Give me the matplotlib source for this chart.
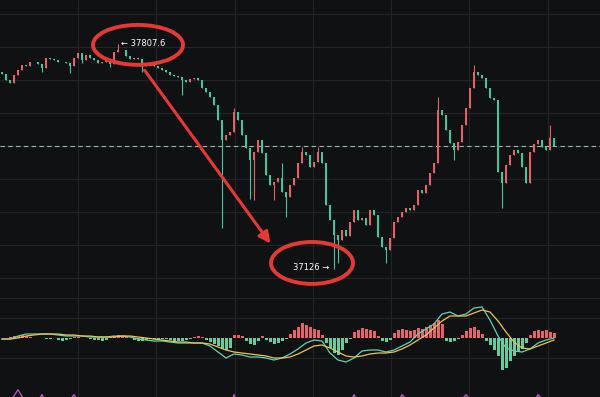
import numpy as np
import matplotlib
matplotlib.use("Agg")
import matplotlib.pyplot as plt
from matplotlib.patches import Ellipse

# close prices, one per candle (oldest first)
closes = [
    37718, 37700, 37691, 37715, 37730, 37745, 37742, 37754, 37754, 37748,
    37736, 37766, 37763, 37760, 37754, 37754, 37751, 37742, 37766, 37781,
    37760, 37775, 37766, 37760, 37751, 37754, 37760, 37748, 37784, 37790,
    37790, 37772, 37763, 37766, 37763, 37742, 37748, 37745, 37742, 37736,
    37730, 37724, 37715, 37712, 37709, 37700, 37694, 37703, 37706, 37700,
    37675, 37663, 37648, 37624, 37578, 37518, 37533, 37542, 37603, 37578,
    37533, 37494, 37457, 37481, 37518, 37478, 37412, 37381, 37391, 37403,
    37360, 37345, 37381, 37403, 37448, 37481, 37472, 37436, 37451, 37481,
    37448, 37321, 37275, 37230, 37215, 37245, 37227, 37269, 37306, 37275,
    37281, 37260, 37306, 37291, 37224, 37194, 37185, 37221, 37269, 37284,
    37300, 37312, 37306, 37321, 37366, 37357, 37381, 37418, 37448, 37609,
    37594, 37548, 37509, 37488, 37512, 37563, 37615, 37675, 37724, 37715,
    37706, 37675, 37645, 37639, 37421, 37387, 37442, 37472, 37488, 37478,
    37436, 37387, 37481, 37506, 37518, 37497, 37488, 37524, 37500,
]
first_open = 37725

# wicks that reach past the candle body
wick_high = {29: 37807.6, 55: 37570, 58: 37615, 70: 37448, 75: 37497, 79: 37497,
             109: 37648, 118: 37745, 137: 37563}
wick_low = {10: 37724, 17: 37721, 20: 37751, 27: 37739, 35: 37724, 45: 37654,
            55: 37251, 62: 37340, 63: 37336, 68: 37336, 71: 37285, 83: 37126,
            84: 37145, 96: 37145, 113: 37457, 125: 37312}

# MACD histogram, one per candle
macd_hist = [
    0, 0, 1, 2, 2, 3, 2, 1, 0, 0,
    0, -1, -1, 0, -2, -3, -2, -1, 1, 1,
    0, 0, -1, -2, -2, -3, -2, 1, 2, 3,
    2, 1, 0, -2, -3, -3, -2, -1, -1, -2,
    -1, -1, -2, -3, -3, -3, -2, -1, 1, 2,
    1, -2, -4, -6, -8, -11, -12, -10, 3, 3,
    2, -3, -6, -7, -3, 2, -2, -4, -6, -5,
    -3, -1, 4, 8, 11, 15, 13, 11, 9, 8,
    3, -5, -10, -15, -17, -12, -5, -1, 6, 8,
    10, 9, 8, 7, 2, -3, -4, -2, 5, 8,
    9, 8, 7, 8, 10, 9, 11, 13, 15, 18,
    14, -3, -4, -3, -1, 3, 7, 10, 11, 8,
    4, -3, -7, -12, -18, -32, -30, -23, -18, -14,
    -11, -5, 3, 7, 8, 7, 8, 6, 5,
]

# MACD and signal lines, every second candle
macd_line = [
    -1, -1, 2, 4, 4, 4, 4, 3, 2, 2, 2, 1, 1, 1, 2, 2, 1, -1, -2, -3,
    -3, -4, -5, -5, -5, -5, -8, -14, -20, -16, -17, -19, -19, -20, -22, -20,
    -16, -11, -5, -2, -3, -15, -22, -24, -20, -13, -12, -12, -14, -12, -8, -4,
    4, 9, 14, 24, 26, 22, 24, 30, 31, 18, 2, -10, -13, -14, -11, -5, -2, 0,
]
signal_line = [
    -1, -1, 0, 2, 3, 4, 4, 4, 3, 3, 2, 2, 1, 1, 1, 2, 2, 1, 0, -1,
    -2, -3, -4, -4, -5, -5, -6, -9, -12, -14, -15, -16, -17, -18, -20, -20,
    -19, -16, -12, -8, -7, -10, -14, -18, -19, -18, -16, -15, -15, -14, -11, -7,
    -2, 3, 10, 17, 22, 22, 22, 25, 28, 26, 17, 6, -4, -10, -11, -8, -5, -2,
]

# bottom indicator, every second candle (only the peaks show)
rsi_line = [
    50, 62, 82, 60, 55, 74, 52, 50, 58, 74, 55, 50, 48, 45, 50, 52, 48, 45, 42, 40,
    38, 36, 35, 34, 30, 28, 30, 32, 30, 74, 40, 35, 30, 30, 28, 30, 35, 40, 45, 50,
    45, 40, 35, 45, 74, 50, 45, 40, 45, 50, 74, 60, 55, 58, 60, 62, 65, 60, 74, 58,
    50, 45, 40, 35, 38, 45, 50, 74, 60, 55,
]

last_price_line = 37500
peak_label = "← 37807.6"
low_label = "37126 →"

BG = "#101113"
GRID = "#222428"
UP = "#e8606a"
DOWN = "#3ec99a"
HIST_DOWN = "#5fcf9f"
RED = "#e53935"

opens = [first_open] + closes[:-1]
n = len(closes)
idx = np.arange(n)
highs = [wick_high.get(i, max(opens[i], closes[i])) for i in range(n)]
lows = [wick_low.get(i, min(opens[i], closes[i])) for i in range(n)]
colors = [UP if closes[i] >= opens[i] else DOWN for i in range(n)]

fig = plt.figure(figsize=(6, 3.97), dpi=100, facecolor=BG)
ax = fig.add_axes([0, 1 - 290 / 397, 1, 290 / 397])
ax_macd = fig.add_axes([0, 1 - 382 / 397, 1, 92 / 397])
ax_rsi = fig.add_axes([0, 0, 1, 15 / 397])

xgrid = np.arange(19, 150, 19.57)
for a in (ax, ax_macd, ax_rsi):
    a.set_facecolor(BG)
    a.set_xlim(-0.5, 149.5)
    for s in a.spines.values():
        s.set_visible(False)
    a.set_xticks([])
    a.set_yticks([])
    for xg in xgrid:
        a.axvline(xg, color=GRID, lw=0.8, zorder=0)

# price pane
ax.set_ylim(37063, 37942)
for yg in range(37100, 38000, 100):
    ax.axhline(yg, color=GRID, lw=0.8, zorder=0)
ax.axhline(last_price_line, color="#9ab8ae", lw=0.8, ls=(0, (4, 3)), zorder=1)

ax.vlines(idx, lows, highs, colors=colors, lw=0.8, zorder=2)
bottoms = [min(o, c) for o, c in zip(opens, closes)]
heights = [max(abs(c - o), 1.5) for o, c in zip(opens, closes)]
ax.bar(idx, heights, bottom=bottoms, width=0.62, color=colors, lw=0, zorder=3)

ax.text(29.75, 37809, peak_label, color="white", fontsize=6, va="center", ha="left", zorder=5)
ax.text(72.75, 37130, low_label, color="white", fontsize=6, va="center", ha="left", zorder=5)

ax.add_patch(Ellipse((34, 37806), 22.5, 121, fill=False, ec=RED, lw=2.8, zorder=6))
ax.add_patch(Ellipse((77.5, 37145), 20.5, 127, fill=False, ec=RED, lw=2.8, zorder=6))
ax.annotate("", xy=(67.5, 37197), xytext=(35.25, 37736),
            arrowprops=dict(arrowstyle="-|>", color=RED, lw=2.2, mutation_scale=17),
            zorder=6)

# MACD pane
ax_macd.set_ylim(-44, 48)
for yg in (-20, 20, 40):
    ax_macd.axhline(yg, color=GRID, lw=0.8, zorder=0)
hist_colors = [UP if h >= 0 else HIST_DOWN for h in macd_hist]
ax_macd.bar(idx, macd_hist, width=0.75, color=hist_colors, lw=0, zorder=2)
line_x = idx[::2]
ax_macd.plot(line_x, macd_line, color="#5fd3b5", lw=0.9, zorder=3)
ax_macd.plot(line_x, signal_line, color="#f2c14e", lw=0.9, zorder=3)

# bottom pane
ax_rsi.set_ylim(70, 95)
ax_rsi.plot(line_x, rsi_line, color="#c058c8", lw=0.9)

fig.savefig("out.png", dpi=100, facecolor=BG)
